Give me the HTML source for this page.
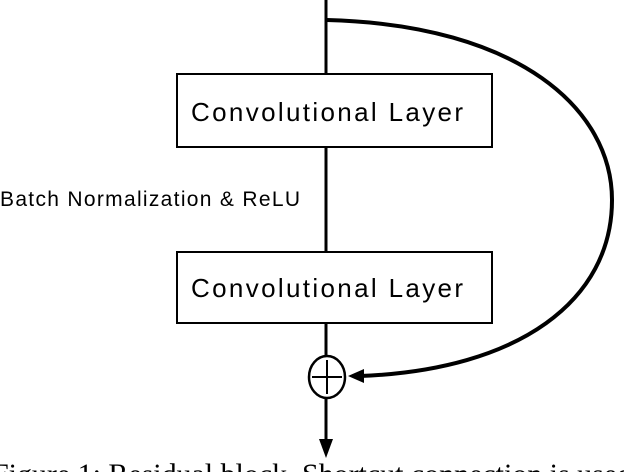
<!DOCTYPE html>
<html><head><meta charset="utf-8"><style>html,body{margin:0;padding:0;background:#fff;}svg{display:block}</style></head>
<body>
<svg width="624" height="472" viewBox="0 0 624 472" xmlns="http://www.w3.org/2000/svg" font-family="Liberation Sans, sans-serif">
<defs><marker id="a" markerWidth="10" markerHeight="10" refX="9" refY="5" orient="auto" markerUnits="userSpaceOnUse"><path d="M0,0 L10,5 L0,10 z" fill="#000"/></marker></defs>
<line x1="326" y1="0" x2="326" y2="360" stroke="#000" stroke-width="3"/>
<line x1="326" y1="394" x2="326" y2="440" stroke="#000" stroke-width="3"/>
<path d="M319,439 L333,439 L326,458 z" fill="#000"/>
<rect x="177" y="74" width="315" height="73" fill="#fff" stroke="#000" stroke-width="2"/>
<text x="327" y="121" font-size="26" text-anchor="middle" textLength="272">Convolutional Layer</text>
<rect x="177" y="252" width="315" height="71" fill="#fff" stroke="#000" stroke-width="2"/>
<text x="327" y="297" font-size="26" text-anchor="middle" textLength="272">Convolutional Layer</text>
<text x="0" y="206" font-size="21" textLength="300">Batch Normalization &amp; ReLU</text>
<path d="M327,20 C520,25 612,110 612,200 C612,300 520,370 360,376" fill="none" stroke="#000" stroke-width="4"/>
<path d="M348,376 L364,369 L364,383 z" fill="#000"/>
<ellipse cx="327" cy="377" rx="18" ry="21" fill="#fff" stroke="#000" stroke-width="2.5"/>
<line x1="312" y1="377" x2="342" y2="377" stroke="#000" stroke-width="2"/>
<line x1="327" y1="360" x2="327" y2="394" stroke="#000" stroke-width="2"/>
<text x="-8" y="484" font-family="Liberation Serif, serif" font-size="30" textLength="640">Figure 1: Residual block. Shortcut connection is used</text>
</svg>
</body></html>
